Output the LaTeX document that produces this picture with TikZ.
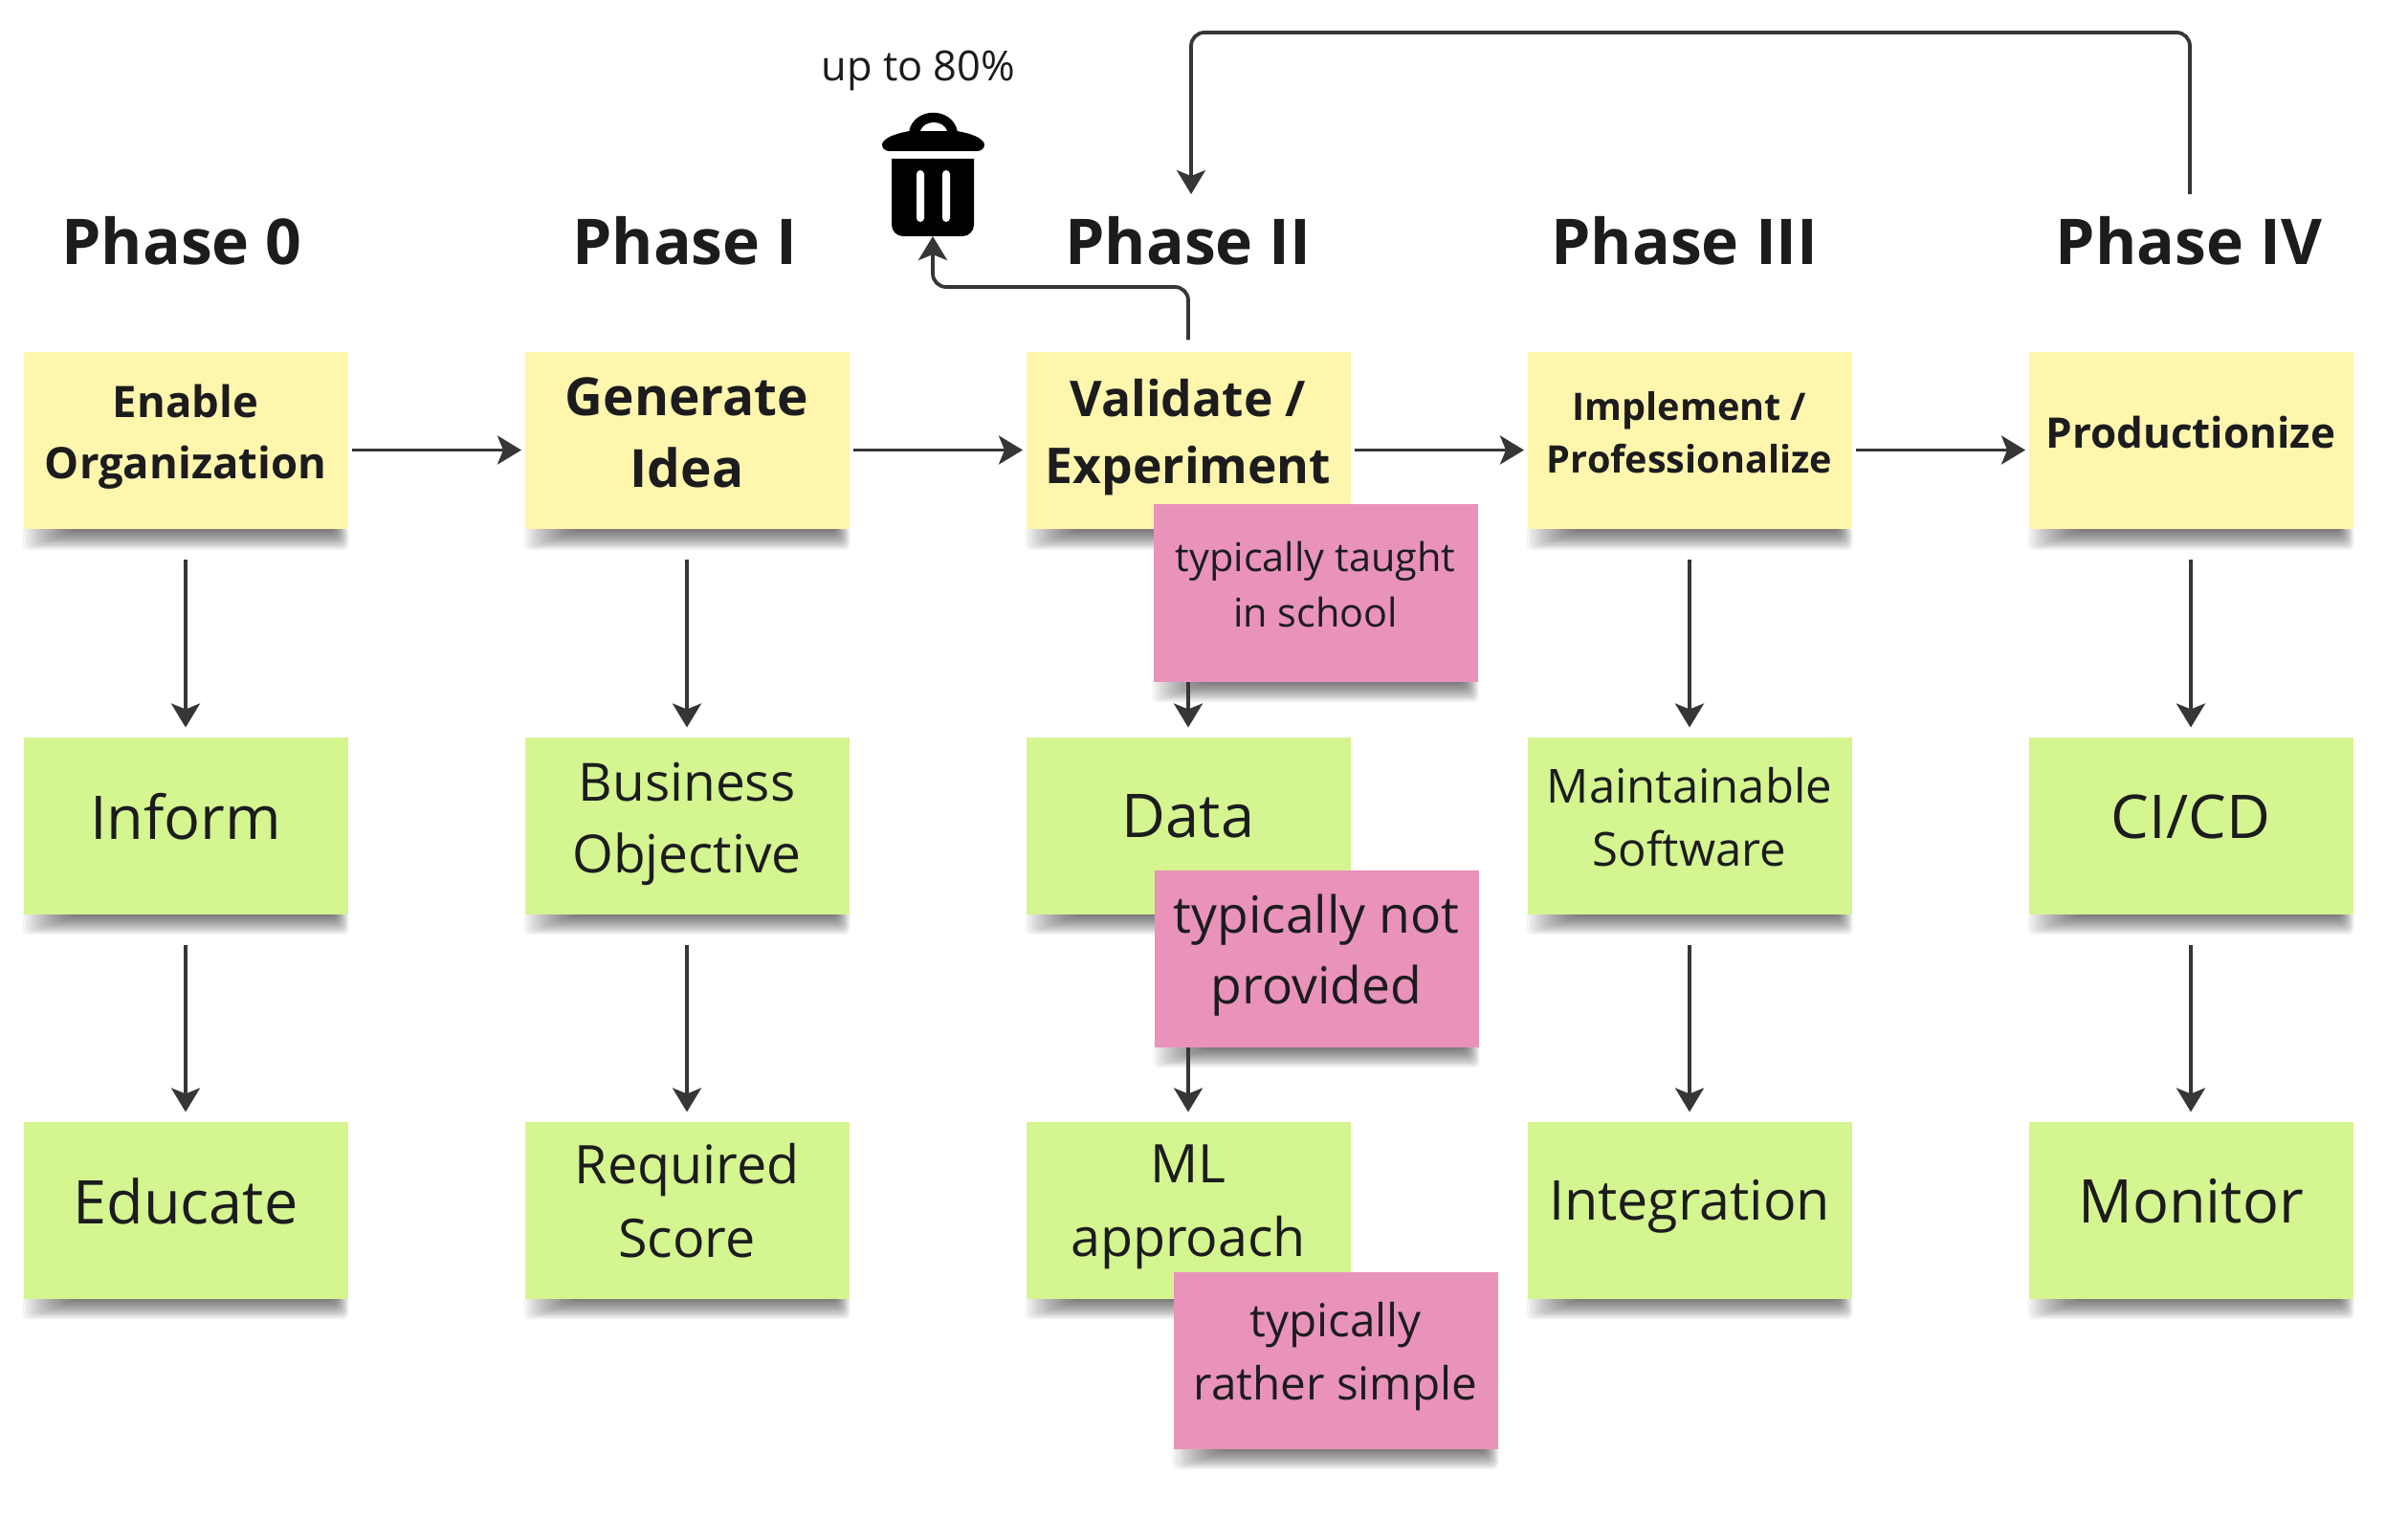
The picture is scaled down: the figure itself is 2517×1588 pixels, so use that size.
\documentclass[tikz,border=0pt]{standalone}
\usepackage{fontspec}
\setmainfont{Open Sans}
\usetikzlibrary{arrows.meta,calc,backgrounds}
\definecolor{noteyellow}{HTML}{FFF6AE}
\definecolor{notegreen}{HTML}{D5F590}
\definecolor{notepink}{HTML}{E993BA}
\definecolor{inkdark}{HTML}{1C1C1E}
\definecolor{linedark}{HTML}{363636}
\newcommand{\fsz}[2]{\fontsize{#1pt}{#2pt}\selectfont}
\newcommand{\dropline}[1]{\rule[-#1pt]{0pt}{0pt}}
\newcommand{\notedrop}[1]{%
    \foreach \d in {0,...,15} {
        \fill [black,opacity=.042,rounded corners=3pt] ($(#1.south west)+(50-3.4*\d,-4)$) rectangle ($(#1.south east)+(-14+\d,2+1.3*\d)$);
    }}
\tikzset{
    sticky/.style={minimum width=169.5pt,minimum height=92.5pt,inner sep=0pt,outer sep=0pt,align=center,text=inkdark},
    yellownote/.style 2 args={sticky,fill=noteyellow,font=\bfseries\fsz{#1}{#2}},
    greennote/.style 2 args={sticky,fill=notegreen,font=\fsz{#1}{#2}},
    pinknote/.style 2 args={sticky,fill=notepink,font=\fsz{#1}{#2}},
    phasehead/.style={text=inkdark,font=\bfseries\fsz{33}{40},minimum height=49pt,inner sep=0pt,outer sep=0pt},
    flow/.style={draw=linedark,line width=1.9pt,-{Stealth[length=12.5pt,width=15pt,inset=3pt]}},
    flowh/.style={flow,shorten <=2.25pt,shorten >=1.75pt},
    flowv/.style={flow,shorten <=16pt,shorten >=5pt}
}
\begin{document}
\begin{tikzpicture}[x=0.5pt,y=-0.5pt]
    \useasboundingbox (0,0) rectangle (2517,1588);
    % headings
    \node [phasehead] (p0) at (190,252) {Phase 0};
    \node [phasehead] (p1) at (716,252) {Phase I};
    \node [phasehead] (p2) at (1242,252) {Phase II};
    \node [phasehead] (p3) at (1761,252) {Phase III};
    \node [phasehead] (p4) at (2288,252) {Phase IV};
    % top row
    \node [yellownote={22.7}{32}] (y0) at (194,461) {Enable\\Organization\dropline{9.4}};
    \node [yellownote={27.5}{37.7}] (y1) at (718,461) {Generate\\Idea\dropline{8.8}};
    \node [yellownote={25.8}{35}] (y2) at (1242,461) {Validate /\\Experiment\dropline{10.2}};
    \node [yellownote={19.8}{27.3}] (y3) at (1766,461) {Implement /\\Professionalize\dropline{8.8}};
    \node [yellownote={22}{32}] (y4) at (2290,461) {Productionize\dropline{9.6}};
    % middle row
    \node [greennote={31.5}{38}] (g0) at (194,863) {Inform\dropline{9.6}};
    \node [greennote={27.5}{37.7}] (g1) at (718,863) {Business\\Objective\dropline{8.2}};
    \node [greennote={31.5}{38}] (g2) at (1242,863) {Data\dropline{9.6}};
    \node [greennote={24.5}{33}] (g3) at (1766,863) {Maintainable\\Software\dropline{8.8}};
    \node [greennote={31.5}{38}] (g4) at (2290,863) {CI/CD\dropline{9.6}};
    % bottom row
    \node [greennote={31.5}{38}] (h0) at (194,1265) {Educate\dropline{9.6}};
    \node [greennote={27.8}{38.5}] (h1) at (718,1265) {Required\\Score\dropline{10.4}};
    \node [greennote={27.8}{38.5}] (h2) at (1242,1265) {ML\\approach\dropline{9.9}};
    \node [greennote={28.7}{38}] (h3) at (1766,1265) {Integration\dropline{10.1}};
    \node [greennote={31.5}{38}] (h4) at (2290,1265) {Monitor\dropline{9.6}};
    % bin
    \node (bin) at (975,206.5) [minimum width=43pt,minimum height=40.5pt,inner sep=0pt,outer sep=0pt] {};
    \fill [black] (bin.north west) [rounded corners=6pt] -- (bin.south west) -- (bin.south east) [sharp corners] -- (bin.north east) -- cycle;
    \fill [white,rounded corners=2pt] (958,178) rectangle (966,232);
    \fill [white,rounded corners=2pt] (985,178) rectangle (993,232);
    \fill [black] (950,138) .. controls (955,111) and (996,111) .. (1001,138) -- cycle;
    \fill [black] (930,158) .. controls (925,158) and (922,155) .. (922,151) .. controls (923,144) and (938,139) .. (951,137) -- (1000,137) .. controls (1013,139) and (1028,144) .. (1029,151) .. controls (1029,155) and (1026,158) .. (1021,158) -- cycle;
    \fill [white] (962,137) .. controls (966,125) and (986,125) .. (990,137) -- cycle;
    \node [text=inkdark,font=\fsz{21.7}{26},inner sep=0pt] (up) at (960,74) {up to 80\%};
    % connectors
    \foreach \a/\b in {y0/y1,y1/y2,y2/y3,y3/y4} {
        \draw [flowh] ([yshift=-4.75pt]\a.east) -- ([yshift=-4.75pt]\b.west);
    }
    \foreach \c in {0,...,4} {
        \draw [flowv] (y\c.south) -- (g\c.north);
        \draw [flowv] (g\c.south) -- (h\c.north);
    }
    \coordinate (binturn) at (975,300);
    \draw [flow,rounded corners=7pt,shorten <=6.5pt,shorten >=0pt] (y2.north) |- (binturn) -- (bin.south);
    \coordinate (looptop) at (1800,34);
    \draw [flow,rounded corners=7pt] ([xshift=.5pt]p4.north) |- (looptop) -| ([xshift=1.5pt]p2.north);
    % remarks
    \node [pinknote={20.7}{29}] (r1) at (1375,620) {typically taught\\in school\\[-19.5pt]\mbox{}};
    \node [pinknote={26.7}{37}] (r2) at (1376,1002) {typically not\\provided\dropline{9.6}};
    \node [pinknote={23.8}{33}] (r3) at (1396,1422) {typically\\rather simple\dropline{9.7}};
    \begin{scope}[on background layer]
        \foreach \n in {y0,y1,y2,y3,y4,g0,g1,g2,g3,g4,h0,h1,h2,h3,h4,r1,r2,r3} {
            \notedrop{\n}
        }
    \end{scope}
\end{tikzpicture}
\end{document}
